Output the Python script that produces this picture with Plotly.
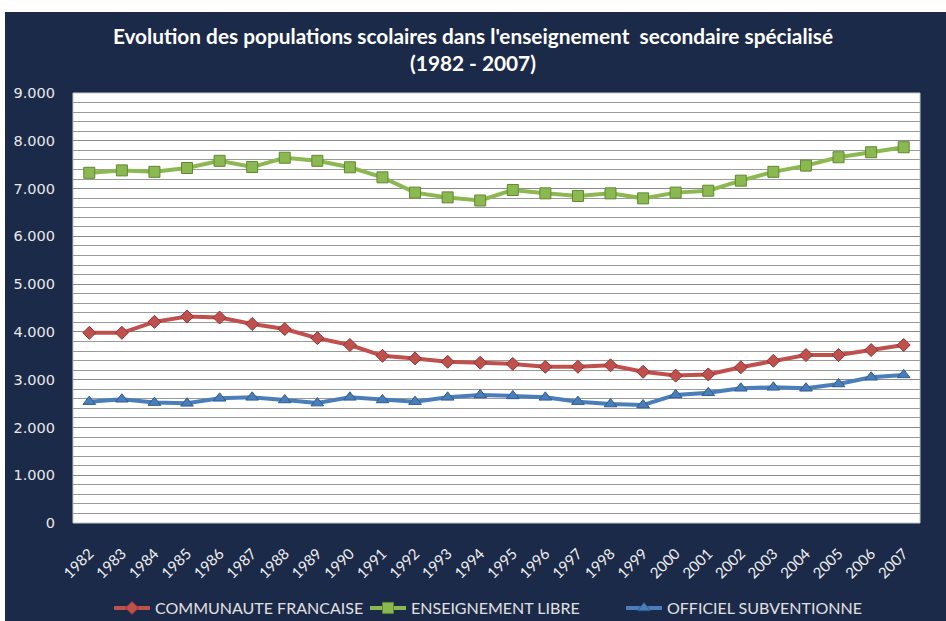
import plotly.graph_objects as go

years = [str(y) for y in range(1982, 2008)]
communaute_francaise = [3980, 3980, 4210, 4320, 4300, 4165, 4060, 3870, 3725, 3500, 3445, 3375,
                        3355, 3330, 3270, 3270, 3300, 3165, 3085, 3110, 3260, 3395, 3515, 3515,
                        3620, 3725]
enseignement_libre = [7330, 7380, 7350, 7430, 7580, 7450, 7645, 7580, 7445, 7235, 6915, 6815,
                      6750, 6970, 6900, 6845, 6900, 6795, 6915, 6955, 7165, 7350, 7480, 7655,
                      7760, 7865]
officiel_subventionne = [2540, 2590, 2520, 2505, 2610, 2630, 2575, 2510, 2630, 2575, 2540, 2630,
                         2680, 2660, 2630, 2540, 2490, 2470, 2680, 2725, 2820, 2840, 2820, 2910,
                         3050, 3100]
series_names = ["COMMUNAUTE FRANCAISE", "ENSEIGNEMENT LIBRE", "OFFICIEL SUBVENTIONNE"]
y_ticks = [0, 1000, 2000, 3000, 4000, 5000, 6000, 7000, 8000, 9000]

NAVY = "#1C2A4A"
colors = ["#C0504D", "#8CB852", "#4A7EBB"]
edge = ["#8E3430", "#5E8A2E", "#2F5A8E"]
symbols = ["diamond", "square", "triangle-up"]
msize = [10, 11, 11]

fig = go.Figure()
for name, vals, c, e, s, ms in zip(series_names,
                                   [communaute_francaise, enseignement_libre, officiel_subventionne],
                                   colors, edge, symbols, msize):
    fig.add_trace(go.Scatter(
        x=years, y=vals, name=name, mode="lines+markers",
        line=dict(color=c, width=4),
        marker=dict(symbol=s, size=ms, color=c, line=dict(color=e, width=1)),
    ))

W, H = 946, 621
L, R, T, B = 73, 26, 93, 98
pw, ph = W - L - R, H - T - B

def px(x):
    return (x - L) / pw

def py(y):
    return (H - B - y) / ph

fig.update_layout(
    width=W, height=H,
    margin=dict(l=L, r=R, t=T, b=B, autoexpand=False),
    paper_bgcolor="white",
    plot_bgcolor="white",
    separators=",.",
    showlegend=True,
    title=dict(
        text="Evolution des populations scolaires dans l'enseignement  secondaire spécialisé<br>(1982 - 2007)",
        x=0.5, xanchor="center", xref="container",
        y=1 - 44 / H, yanchor="middle", yref="container",
        font=dict(family="Lato, 'Open Sans', sans-serif", size=20.8, color="white", weight="bold"),
    ),
    xaxis=dict(
        type="category", range=[-0.5, 25.5],
        tickangle=-45, showgrid=False, showline=False, ticks="",
        tickfont=dict(family="Lato, 'Open Sans', sans-serif", size=15, color="#F0F0F0"),
        ticklabelstandoff=18,
    ),
    yaxis=dict(
        range=[0, 9000], tickvals=y_ticks, tickformat=",d",
        showgrid=True, gridcolor="#8A8A8A", gridwidth=1,
        minor=dict(dtick=200, showgrid=True, gridcolor="#9A9A9A", gridwidth=1),
        zeroline=False, showline=False, ticks="",
        tickfont=dict(family="DejaVu Sans, Verdana, sans-serif", size=14.5, color="#E8E8E8"),
        ticklabelstandoff=17,
    ),
    legend=dict(
        orientation="h", x=px(109), xanchor="left", y=py(608), yanchor="middle",
        font=dict(family="Lato, 'Open Sans', sans-serif", size=16, color="#E0E0E0"),
        bgcolor="rgba(0,0,0,0)", itemwidth=36,
        entrywidth=205, entrywidthmode="pixels",
    ),
    shapes=[
        dict(type="rect", xref="paper", yref="paper", layer="below",
             x0=px(5), x1=px(W + 2), y0=py(H + 2), y1=py(12),
             fillcolor=NAVY, line=dict(width=0)),
        dict(type="rect", xref="paper", yref="paper", layer="below",
             x0=0, x1=1, y0=0, y1=1,
             fillcolor="white", line=dict(color="#C8C8C8", width=1)),
    ],
)

fig.write_html("out.html", config={"displayModeBar": False},
               post_script="document.body.style.margin='0';")
